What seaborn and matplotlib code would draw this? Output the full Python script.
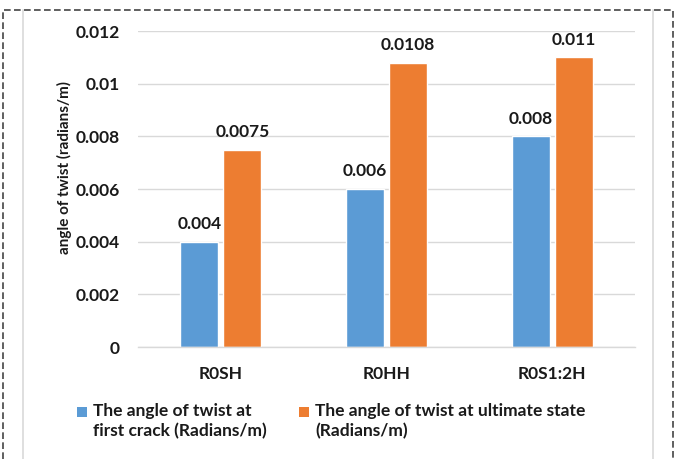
import matplotlib
matplotlib.use("Agg")
import matplotlib.pyplot as plt
from matplotlib.patches import Rectangle
from matplotlib.lines import Line2D
from matplotlib.ticker import FuncFormatter
import seaborn as sns
import pandas as pd

# Data
specimens = ["R0SH", "R0HH", "R0S1:2H"]
first_crack = [0.004, 0.006, 0.008]
ultimate = [0.0075, 0.0108, 0.011]
series_names = ["The angle of twist at\nfirst crack (Radians/m)",
                "The angle of twist at ultimate state\n(Radians/m)"]
y_ticks = [0, 0.002, 0.004, 0.006, 0.008, 0.01, 0.012]
colors = ["#5B9BD5", "#ED7D31"]

df = pd.DataFrame({
    "specimen": specimens * 2,
    "angle": first_crack + ultimate,
    "series": [series_names[0]] * len(specimens) + [series_names[1]] * len(specimens),
})

sns.set_theme(style="white")
plt.rcParams["font.family"] = ["Lato", "DejaVu Sans"]

W, H = 680, 459
TXT = "#1a1a1a"
fig = plt.figure(figsize=(W / 100, H / 100), dpi=100)
ax = fig.add_axes([138 / W, 1 - 347 / H, (635 - 138) / W, (347 - 31) / H])

sns.barplot(data=df, x="specimen", y="angle", hue="series", palette=colors,
            width=0.52, gap=0.12, ax=ax, legend=False, saturation=1)

ax.set_ylim(0, 0.012)
ax.set_yticks(y_ticks)
ax.yaxis.set_major_formatter(FuncFormatter(lambda v, p: "0" if v == 0 else f"{v:g}"))
ax.grid(axis="y", color="#D9D9D9", linewidth=1)
ax.set_axisbelow(True)
for s in ["top", "right", "left"]:
    ax.spines[s].set_visible(False)
ax.spines["bottom"].set_color("#D9D9D9")
ax.spines["bottom"].set_linewidth(1)
ax.tick_params(axis="y", length=0, pad=13, labelsize=12.5)
ax.tick_params(axis="x", length=0, pad=14, labelsize=12.5)
for lbl in ax.get_xticklabels() + ax.get_yticklabels():
    lbl.set_fontweight("bold")
    lbl.set_color(TXT)
ax.set_xlabel("")
ax.set_ylabel("")

for cont in ax.containers:
    ax.bar_label(cont, labels=[f"{b.get_height():g}" for b in cont],
                 padding=7, fontsize=12.5, fontweight="bold", color=TXT)

# y-axis title
fig.text(64 / W, 1 - 168 / H, "angle of twist (radians/m)", rotation=90,
         ha="center", va="center", fontsize=11, fontweight="bold", color=TXT)

# legend drawn in figure pixels
def px(x, y):
    return x / W, 1 - y / H

for (sx, tx), label, c in zip([(77, 93), (299, 315)], series_names, colors):
    fig.patches.append(Rectangle(px(sx, 417), 10 / W, 10 / H, transform=fig.transFigure,
                                 facecolor=c, edgecolor="none"))
    fig.text(*px(tx, 403), label, ha="left", va="top", fontsize=12.5,
             fontweight="bold", color=TXT, linespacing=1.3)

# chart-area frame and dashed outer border
for xv in (23, 653):
    fig.lines.append(Line2D([xv / W, xv / W], [0, 1 - 10 / H], transform=fig.transFigure,
                            color="#D9D9D9", linewidth=1.2))
fig.lines.append(Line2D([3 / W, 3 / W, 673 / W, 673 / W], [0, 1 - 10 / H, 1 - 10 / H, 0],
                        transform=fig.transFigure, color="#444444", linewidth=1.2,
                        linestyle=(0, (4, 2))))

fig.savefig("out.png", dpi=100)
